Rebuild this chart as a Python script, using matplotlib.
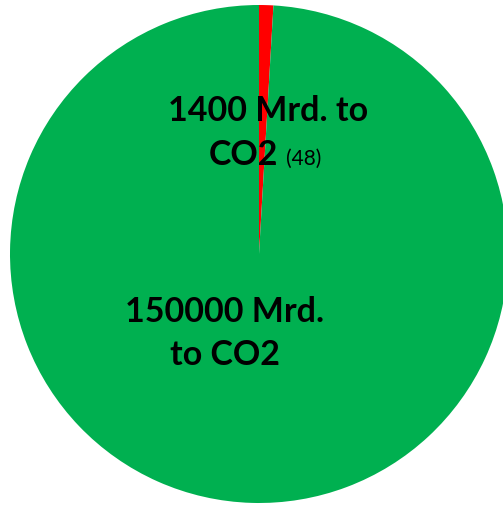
import matplotlib.pyplot as plt

labels = ["1400 Mrd. to CO2", "150000 Mrd. to CO2"]
values = [1400, 150000]
colors = ["#FF0000", "#00B050"]

W, H = 503, 506
fig = plt.figure(figsize=(W / 100, H / 100), dpi=100)
ax = fig.add_axes([0, 0, 1, 1])

# pixel coordinates, y measured from bottom
ax.pie(values, colors=colors, startangle=90, counterclock=False,
       center=(259, H - 255), radius=249,
       wedgeprops=dict(linewidth=0))
ax.set_xlim(0, W)
ax.set_ylim(0, H)
ax.set_aspect("equal")
ax.axis("off")

font = ["Lato", "DejaVu Sans"]
big = dict(fontsize=24.5, fontweight="bold", family=font, color="black", va="baseline")

ax.text(268, H - 121, "1400 Mrd. to", ha="center", **big)
ax.text(278, H - 165, "CO2", ha="right", **big)
ax.text(286, H - 165, "(48)", ha="left", va="baseline", fontsize=15,
        family=font, color="black")

ax.text(225, H - 322, "150000 Mrd.", ha="center", **big)
ax.text(225, H - 365, "to CO2", ha="center", **big)

fig.savefig("out.png", dpi=100)
